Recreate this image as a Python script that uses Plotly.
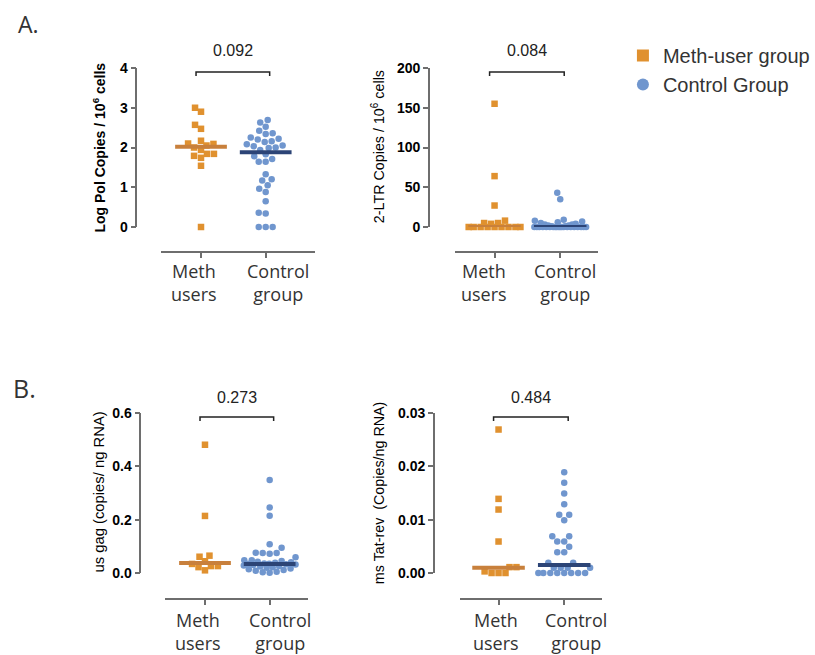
import numpy as np
import plotly.graph_objects as go

# ---------------- data ----------------
groups = ["Meth<br>users", "Control<br>group"]

meth_pol = [3.00, 2.90, 2.57, 2.47, 2.17, 2.10, 2.09, 2.05, 2.00, 1.94, 1.84, 1.84, 1.79, 1.74, 1.54, 0.0]
ctrl_pol = [2.69, 2.63, 2.52, 2.42, 2.36, 2.34, 2.25, 2.22, 2.20, 2.16, 2.14, 2.08, 2.05, 2.03, 2.00,
            1.99, 1.94, 1.83, 1.78, 1.71, 1.64, 1.64, 1.33, 1.20, 1.17, 1.05, 0.96, 0.88, 0.65, 0.36,
            0.34, 0.0, 0.0, 0.0]
median_pol = [2.02, 1.88]

meth_ltr = [155, 64, 27, 8, 5, 5, 4, 0, 0, 0, 0, 0, 0, 0, 0, 0]
ctrl_ltr = [43, 35, 9, 8, 7, 6, 5, 4, 3, 3, 2, 2, 1, 1] + [0] * 20
median_ltr = [0.0, 0.0]

meth_gag = [0.481, 0.214, 0.065, 0.061, 0.044, 0.034, 0.026, 0.026, 0.022, 0.010]
ctrl_gag = [0.349, 0.246, 0.215, 0.108, 0.095, 0.076, 0.075, 0.075, 0.072, 0.059, 0.048, 0.048,
            0.045, 0.042, 0.040, 0.038, 0.036, 0.035, 0.034, 0.033, 0.032, 0.030, 0.028, 0.026,
            0.024, 0.022, 0.020, 0.017, 0.014, 0.011, 0.008, 0.005, 0.003, 0.001]
median_gag = [0.0375, 0.034]

meth_tat = [0.0269, 0.0139, 0.0119, 0.0059, 0.0011, 0.0011, 0.0003, 0.0, 0.0, 0.0]
ctrl_tat = [0.0189, 0.0169, 0.0149, 0.0129, 0.0109, 0.0109, 0.0099, 0.0069, 0.0069, 0.0059,
            0.0059, 0.0049, 0.0039, 0.0039, 0.0019, 0.0019, 0.001, 0.001, 0.001, 0.001,
            0.0, 0.0, 0.0, 0.0, 0.0, 0.0, 0.0, 0.0]
median_tat = [0.001, 0.0015]

p_values = ["0.092", "0.084", "0.273", "0.484"]
y_titles = ["Log Pol Copies / 10<sup>6</sup> cells", "2-LTR Copies / 10<sup>6</sup> cells",
            "us gag (copies/ ng RNA)", "ms Tat-rev &nbsp;(Copies/ng RNA)"]
legend_names = ["Meth-user group", "Control Group"]

# ---------------- style / layout ----------------
W, H = 815, 655
ORANGE = "#E0912F"
BLUE = "#7096CE"
ORANGE_LINE = "#C8803C"
NAVY = "#2C4476"
AXIS = "#6e6e6e"
TICKFONT = dict(family="Liberation Sans, Arial", size=14, color="black", weight="bold")
CATFONT = dict(family="Open Sans", size=18, color="#333333")

panels = [
    dict(data=(meth_pol, ctrl_pol), med=median_pol, xdom=(162, 317), ydom=(68, 227), yax=137, xax=252,
         centers=(202, 267), yrange=(0, 4), ticks=[0, 1, 2, 3, 4], fmt="", title_xy=(100, 148),
         title_bold=True, title_size=14, br_y=72, p_y=50, lab_dx=(-7, 12), lab_y=257),
    dict(data=(meth_ltr, ctrl_ltr), med=median_ltr, xdom=(457, 601), ydom=(68, 227), yax=431, xax=252,
         centers=(497, 563), yrange=(0, 200), ticks=[0, 50, 100, 150, 200], fmt="", title_xy=(380, 147),
         title_bold=False, title_size=14.3, br_y=72, p_y=50, lab_dx=(-11, 5), lab_y=257),
    dict(data=(meth_gag, ctrl_gag), med=median_gag, xdom=(166, 310), ydom=(413, 573), yax=141, xax=599,
         centers=(206, 271), yrange=(0, 0.6), ticks=[0, 0.2, 0.4, 0.6], fmt=".1f", title_xy=(99, 492),
         title_bold=False, title_size=14.8, br_y=417, p_y=397, lab_dx=(-7, 10), lab_y=606),
    dict(data=(meth_tat, ctrl_tat), med=median_tat, xdom=(462, 605), ydom=(413, 573), yax=436, xax=599,
         centers=(501, 567), yrange=(0, 0.03), ticks=[0, 0.01, 0.02, 0.03], fmt=".2f", title_xy=(381, 493),
         title_bold=False, title_size=14.3, br_y=417, p_y=397, lab_dx=(-3, 12), lab_y=606),
]


def px2x(px):
    return px / W


def px2y(py):
    return 1 - py / H


def swarm(values, ppu_y, ppu_x, d=7.0, wmax=26.0):
    vals = np.asarray(values, dtype=float)
    order = np.argsort(vals, kind="stable")
    cands = np.arange(-wmax, wmax + 0.01, 0.5)
    cands = cands[np.argsort(np.abs(cands), kind="stable")]
    placed = []
    offs = np.zeros(len(vals))
    for i in order:
        y = vals[i] * ppu_y
        if not placed:
            off = 0.0
        else:
            P = np.array(placed)
            dist = np.sqrt((cands[:, None] - P[None, :, 0]) ** 2 + (y - P[None, :, 1]) ** 2).min(axis=1)
            ok = np.where(dist >= d)[0]
            off = cands[ok[0]] if len(ok) else cands[np.argmax(dist)]
        placed.append((off, y))
        offs[i] = off
    return offs / ppu_x


fig = go.Figure()
layout = dict(width=W, height=H, margin=dict(l=0, r=0, t=0, b=0), paper_bgcolor="white",
              plot_bgcolor="rgba(0,0,0,0)", template="none", showlegend=True)
annotations = []
shapes = []

for k, p in enumerate(panels):
    n = "" if k == 0 else str(k + 1)
    xa, ya = "x" + n, "y" + n
    unit = p["centers"][1] - p["centers"][0]
    xr = ((p["xdom"][0] - p["centers"][0]) / unit, (p["xdom"][1] - p["centers"][0]) / unit)
    ppu_y = (p["ydom"][1] - p["ydom"][0]) / (p["yrange"][1] - p["yrange"][0])
    for g, (vals, col, sym) in enumerate(zip(p["data"], (ORANGE, BLUE), ("square", "circle"))):
        offs = swarm(vals, ppu_y, unit)
        fig.add_trace(go.Scatter(x=g + offs, y=vals, mode="markers", xaxis=xa, yaxis=ya,
                                 marker=dict(symbol=sym, size=6.5, color=col, line=dict(width=0)),
                                 showlegend=False, cliponaxis=False, hoverinfo="y"))
    for g, col in enumerate((ORANGE_LINE, NAVY)):
        fig.add_trace(go.Scatter(x=[g - 0.4, g + 0.4], y=[p["med"][g]] * 2, mode="lines", xaxis=xa, yaxis=ya,
                                 line=dict(color=col, width=4), showlegend=False, cliponaxis=False,
                                 hoverinfo="skip"))
    layout["xaxis" + n] = dict(domain=[px2x(p["xdom"][0]), px2x(p["xdom"][1])], range=list(xr),
                               anchor="free", position=px2y(p["xax"]), showline=True, linecolor=AXIS,
                               linewidth=1.5, ticks="outside", ticklen=5, tickwidth=1.5, tickcolor=AXIS,
                               tickvals=[0, 1], showticklabels=False, showgrid=False,
                               zeroline=False, fixedrange=True)
    layout["yaxis" + n] = dict(domain=[px2y(p["ydom"][1]), px2y(p["ydom"][0])], range=list(p["yrange"]),
                               anchor="free", position=px2x(p["yax"]), showline=True, linecolor=AXIS,
                               linewidth=1.5, ticks="outside", ticklen=5, tickwidth=1.5, tickcolor=AXIS,
                               tickvals=p["ticks"], tickformat=p["fmt"], tickfont=TICKFONT,
                               showgrid=False, zeroline=False, fixedrange=True)
    # category labels
    for g, lab in enumerate(groups):
        annotations.append(dict(text=lab, x=px2x(p["centers"][g] + p["lab_dx"][g]), y=px2y(p["lab_y"]),
                                xref="paper", yref="paper", showarrow=False, xanchor="center",
                                yanchor="top", font=CATFONT))
    # y title
    tf = dict(family="Liberation Sans, Arial", size=p["title_size"], color="black",
              weight="bold" if p["title_bold"] else "normal")
    annotations.append(dict(text=y_titles[k], x=px2x(p["title_xy"][0]), y=px2y(p["title_xy"][1]),
                            xref="paper", yref="paper", textangle=-90, showarrow=False,
                            xanchor="center", yanchor="middle", font=tf))
    # bracket + p-value
    xl = px2x(p["centers"][0] - 5)
    xr_ = px2x(p["centers"][1] + 4)
    yb = px2y(p["br_y"])
    yt = px2y(p["br_y"] + 4)
    shapes.append(dict(type="path", xref="paper", yref="paper",
                       path=f"M {xl} {yt} L {xl} {yb} L {xr_} {yb} L {xr_} {yt}",
                       line=dict(color="#222222", width=1.5)))
    annotations.append(dict(text=p_values[k], x=(xl + xr_) / 2, y=px2y(p["p_y"]), xref="paper",
                            yref="paper", showarrow=False, xanchor="center", yanchor="middle",
                            font=dict(family="Liberation Sans, Arial", size=16, color="#222222")))

# panel letters
annotations.append(dict(text="A.", x=px2x(16), y=px2y(24), xref="paper", yref="paper", showarrow=False,
                        xanchor="left", yanchor="middle",
                        font=dict(family="Open Sans", size=23, color="#333333")))
annotations.append(dict(text="B.", x=px2x(11), y=px2y(388), xref="paper", yref="paper", showarrow=False,
                        xanchor="left", yanchor="middle",
                        font=dict(family="Open Sans", size=25, color="#333333")))

# legend entries
for name, col, sym in zip(legend_names, (ORANGE, BLUE), ("square", "circle")):
    fig.add_trace(go.Scatter(x=[None], y=[None], mode="markers", name=name,
                             marker=dict(symbol=sym, size=12, color=col), showlegend=True))

layout["legend"] = dict(x=px2x(626), y=px2y(36), xanchor="left", yanchor="top", bgcolor="rgba(0,0,0,0)",
                        font=dict(family="Liberation Sans, Arial", size=20, color="#333333"))
layout["annotations"] = annotations
layout["shapes"] = shapes
fig.update_layout(**layout)
fig.write_html("out.html")
